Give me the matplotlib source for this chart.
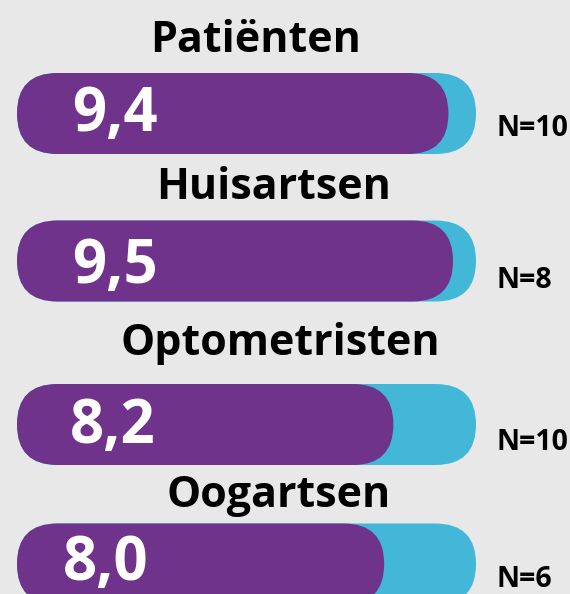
import matplotlib.pyplot as plt
from matplotlib.patches import FancyBboxPatch

groups = ['Patiënten', 'Huisartsen', 'Optometristen', 'Oogartsen']
scores = [9.4, 9.5, 8.2, 8.0]
score_labels = ['9,4', '9,5', '8,2', '8,0']
counts = [10, 8, 10, 6]
max_score = 10

purple = '#70338C'
cyan = '#42B7D7'
bg = '#E8E8E8'

plt.rcParams['font.family'] = ['Open Sans', 'DejaVu Sans']

fig = plt.figure(figsize=(5.7, 5.94), dpi=100, facecolor=bg)
ax = fig.add_axes([0, 0, 1, 1])
ax.set_facecolor(bg)

# x in score units, y in pixels from the top
x_per_px = max_score / 459
ax.set_xlim(-17 * x_per_px, 553 * x_per_px)
ax.set_ylim(594, 0)
ax.axis('off')

# layout (pixels from top)
bar_y = [113.5, 261, 424.5, 564]
title_base = [52, 199, 355, 507]
title_x = [5.19, 5.6, 5.73, 5.71]
value_base = [131, 283, 443, 580]
value_x = [1.2, 1.2, 1.15, 1.0]
n_base = [136, 288, 450, 587]
bar_h = 81
aspect = 1 / x_per_px
rad = bar_h / 2 * x_per_px


def pill(x_end, yc, color, z):
    p = FancyBboxPatch((0, yc - bar_h / 2), x_end, bar_h,
                       boxstyle=f'round,pad=0,rounding_size={rad}',
                       mutation_aspect=aspect, fc=color, ec='none', zorder=z)
    ax.add_patch(p)


for i in range(len(groups)):
    pill(max_score, bar_y[i], cyan, 1)
    pill(scores[i], bar_y[i], purple, 2)
    ax.text(value_x[i], value_base[i], score_labels[i], color='white', fontsize=43,
            fontweight='bold', ha='left', va='baseline', zorder=3)
    ax.text(title_x[i], title_base[i], groups[i], color='black', fontsize=31,
            fontweight='bold', ha='center', va='baseline')
    ax.text(10.45, n_base[i], f'N={counts[i]}', color='black', fontsize=20.5,
            fontweight='bold', ha='left', va='baseline')

fig.savefig('out.png', dpi=100, facecolor=bg)
